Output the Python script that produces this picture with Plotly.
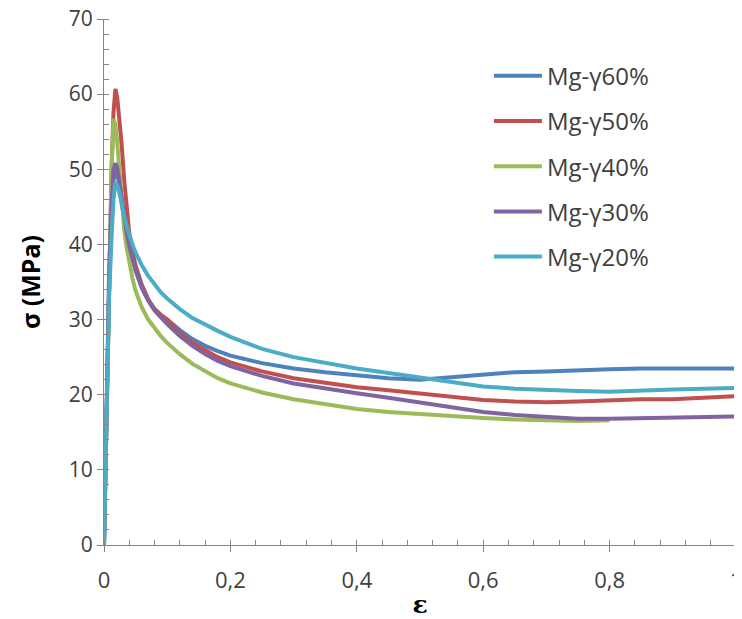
import plotly.graph_objects as go

strain = [0, 0.004, 0.008, 0.012, 0.015, 0.018, 0.021, 0.024, 0.028, 0.032, 0.036, 0.04,
          0.045, 0.05, 0.06, 0.07, 0.08, 0.09, 0.1, 0.12, 0.14, 0.16, 0.18, 0.2,
          0.25, 0.3, 0.35, 0.4, 0.45, 0.5, 0.55, 0.6, 0.65, 0.7, 0.75, 0.8,
          0.85, 0.9, 0.95, 1.0]

mg60 = [0, 17, 34, 43, 48.5, 50.0,
        49.5, 48.0, 45.5, 43.2, 41.2, 39.6, 37.9, 36.5, 34.2, 32.6, 31.4, 30.6, 30.0,
        28.6, 27.4, 26.5, 25.8, 25.2,
        24.2, 23.5, 23.0, 22.6, 22.2, 22.0, 22.3, 22.7, 23.0, 23.1, 23.3, 23.4,
        23.5, 23.5, 23.5, 23.5]
mg50 = [0, 18, 36, 50, 57.5, 60.7,
        59.5, 57.0, 53.2, 48.5, 44.5, 41.5, 39.0, 37.2, 34.6, 32.7, 31.4, 30.6, 30.0,
        28.2, 26.9, 25.9, 25.0, 24.3,
        23.1, 22.2, 21.6, 21.0, 20.6, 20.2, 19.7, 19.3, 19.1, 19.0, 19.1, 19.3,
        19.4, 19.4, 19.6, 19.8]
mg40 = [0, 19, 38, 50, 56.7, 56.0,
        53.5, 50.5, 45.5, 42.0, 39.5, 37.5, 35.5, 33.8, 31.6, 30.0, 28.8, 27.8, 26.9,
        25.4, 24.1, 23.1, 22.2, 21.5,
        20.3, 19.4, 18.7, 18.1, 17.7, 17.4, 17.1, 16.9, 16.7, 16.6, 16.5, 16.6,
        None, None, None, None]
mg30 = [0, 18, 36, 45, 50.0, 50.8,
        50.2, 48.5, 46.0, 43.5, 41.5, 39.8, 38.0, 36.6, 34.2, 32.5, 31.2, 30.2, 29.4,
        27.8, 26.5, 25.4, 24.5, 23.8,
        22.5, 21.5, 20.8, 20.2, 19.6, 19.0, 18.3, 17.7, 17.3, 17.0, 16.8, 16.8,
        16.9, 17.0, 17.0, 17.1]
mg20 = [0, 20, 33, 41, 46, 48.3,
        47.8, 47.0, 45.2, 43.7, 42.4, 41.2, 40.0, 38.9, 37.2, 35.8, 34.6, 33.6, 32.8,
        31.4, 30.2, 29.3, 28.5, 27.7,
        26.1, 25.0, 24.2, 23.5, 22.9, 22.3, 21.6, 21.1, 20.8, 20.6, 20.5, 20.4,
        20.6, 20.7, 20.8, 20.9]

names = ["Mg-\u03b360%", "Mg-\u03b350%", "Mg-\u03b340%", "Mg-\u03b330%", "Mg-\u03b320%"]
series = [mg60, mg50, mg40, mg30, mg20]
colors = ["#4F81BD", "#C0504D", "#9BBB59", "#8064A2", "#4BACC6"]

x_tickvals = [0, 0.2, 0.4, 0.6, 0.8, 1.0]
x_ticktext = ["0", "0,2", "0,4", "0,6", "0,8", "1"]
y_tickvals = [0, 10, 20, 30, 40, 50, 60, 70]

fig = go.Figure()
for name, ys, col in zip(names, series, colors):
    fig.add_trace(go.Scatter(x=strain, y=ys, mode="lines", name=name,
                             legendgroup=name,
                             line=dict(color=col, width=4), connectgaps=False))

font_family = "Open Sans, Liberation Sans, sans-serif"
fig.update_layout(
    width=734, height=611,
    margin=dict(l=96, r=6, t=11, b=74),
    paper_bgcolor="white", plot_bgcolor="white",
    font=dict(family=font_family, size=22, color="#404040"),
    showlegend=True,
    legend=dict(x=0.609, y=0.934, xanchor="left", yanchor="top",
                bgcolor="rgba(255,255,255,0)", tracegroupgap=11,
                font=dict(size=24, color="#404040"), itemwidth=48),
    xaxis=dict(range=[0, 1], tickvals=x_tickvals, ticktext=x_ticktext,
               automargin=False, ticklabeloverflow="allow",
               showgrid=False, zeroline=False, showline=True, linecolor="#868686",
               linewidth=1, ticks="outside", ticklen=6, tickcolor="#868686",
               ticklabelstandoff=10,
               minor=dict(dtick=0.04, ticks="inside", ticklen=5, tickcolor="#868686"),
               title=dict(text="<b>\u03b5</b>", standoff=2,
                          font=dict(family="DejaVu Serif, serif", size=25, color="#000000"))),
    yaxis=dict(range=[0, 70], tickvals=y_tickvals, automargin=False,
               ticklabeloverflow="allow", tickfont=dict(size=21),
               showgrid=False, zeroline=False, showline=True, linecolor="#868686",
               linewidth=1, ticks="outside", ticklen=6, tickcolor="#868686",
               minor=dict(dtick=2, ticks="inside", ticklen=5, tickcolor="#868686"),
               title=dict(text="<b>\u03c3 (MPa)</b>", standoff=21,
                          font=dict(size=25, color="#000000"))),
    shapes=[dict(type="line", xref="paper", yref="paper", x0=0.999, x1=0.999,
                 y0=0, y1=1, layer="above",
                 line=dict(color="#333333", width=1.2))],
)

fig.write_html("out.html")
